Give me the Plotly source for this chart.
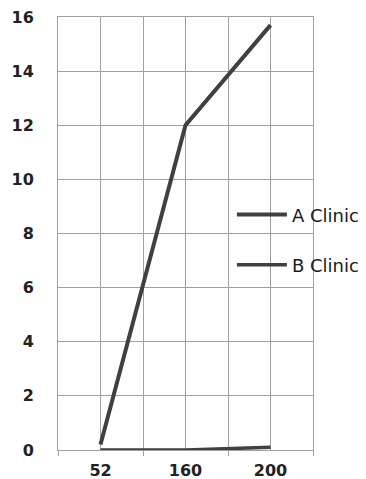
import plotly.graph_objects as go

categories = ["52", "160", "200"]
a_clinic = [0.2, 12.0, 15.7]
b_clinic = [0.0, 0.0, 0.1]
y_ticks = [0, 2, 4, 6, 8, 10, 12, 14, 16]

idx = list(range(len(categories)))
bounds = [i - 0.5 for i in range(len(categories) + 1)]

line_color = "#404040"
grid_color = "#a0a0a0"

fig = go.Figure()
fig.add_trace(go.Scatter(x=idx, y=a_clinic, mode="lines", name="A Clinic",
                         line=dict(color=line_color, width=4), legend="legend",
                         showlegend=True))
fig.add_trace(go.Scatter(x=idx, y=b_clinic, mode="lines", name="B Clinic",
                         line=dict(color=line_color, width=3.5), legend="legend2",
                         showlegend=True))

tick_font = dict(family="DejaVu Sans", size=16, color="#222222", weight="bold")
legend_font = dict(family="DejaVu Sans", size=18, color="#1a1a1a")

fig.update_layout(
    width=358, height=471,
    margin=dict(l=50, r=53, t=9, b=29, autoexpand=False),
    paper_bgcolor="white", plot_bgcolor="white",
    font=legend_font,
    showlegend=True,
    legend=dict(x=0.682, y=0.543, xanchor="left", yanchor="middle",
                bgcolor="rgba(0,0,0,0)", font=legend_font, itemwidth=50),
    legend2=dict(x=0.682, y=0.427, xanchor="left", yanchor="middle",
                 bgcolor="rgba(0,0,0,0)", font=legend_font, itemwidth=50),
    xaxis=dict(
        range=[bounds[0], bounds[-1]],
        tickmode="array", tickvals=idx, ticktext=categories,
        showgrid=True, gridcolor=grid_color, gridwidth=1,
        ticks="", ticklabelstandoff=6, automargin=False,
        ticklabeloverflow="allow",
        showline=True, linecolor=grid_color, linewidth=1, mirror=True,
        zeroline=False,
        minor=dict(tickmode="array", tickvals=bounds, showgrid=True,
                   gridcolor=grid_color, gridwidth=1, ticks="outside",
                   ticklen=5, tickcolor=grid_color),
        tickfont=tick_font,
    ),
    yaxis=dict(
        range=[0, 16], tickmode="array", tickvals=y_ticks,
        showgrid=True, gridcolor=grid_color, gridwidth=1,
        ticks="", ticklabelstandoff=20, automargin=False,
        ticklabeloverflow="allow",
        showline=True, linecolor=grid_color, linewidth=1, mirror=True,
        zeroline=False, tickfont=tick_font,
    ),
)

fig.write_html("out.html")
